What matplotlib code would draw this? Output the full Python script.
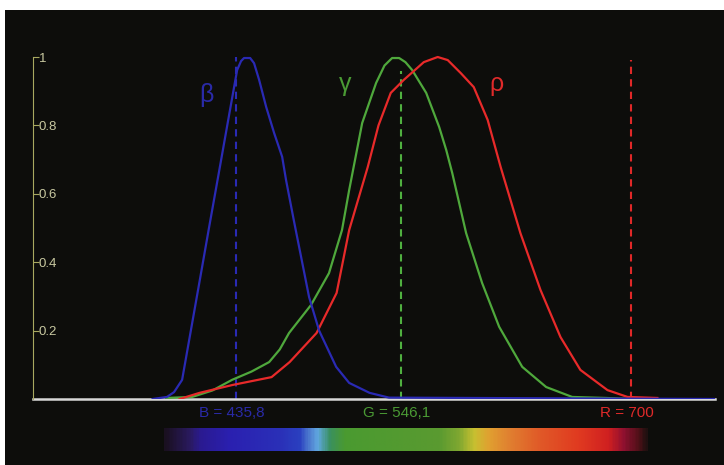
import numpy as np
import matplotlib.pyplot as plt
from matplotlib.colors import LinearSegmentedColormap
from matplotlib.patches import Rectangle

plt.rcParams['font.family'] = ['Liberation Sans', 'DejaVu Sans']

# colour matching functions (wavelength in nm, relative value)
blue_nm = [380, 389.6, 394.3, 399.7, 405.7, 411.7, 417.7, 424.4, 431.1, 436.5, 439.1, 441.1,
           445.2, 447.8, 451.2, 455.9, 461.2, 466.6, 469.2, 474.5, 484.6, 491.3, 502.7,
           511.4, 525, 538, 756]
blue_val = [0, 0.006, 0.02, 0.056, 0.204, 0.352, 0.501, 0.665, 0.83, 0.962, 0.988, 0.997,
            0.997, 0.982, 0.933, 0.854, 0.778, 0.708, 0.64, 0.52, 0.298, 0.2, 0.094,
            0.047, 0.018, 0.004, 0]

green_nm = [389, 406.4, 420, 433.1, 446, 457.9, 465, 471.2, 485.9, 497.9, 506.6, 511.4,
            520.1, 529.4, 535, 540.1, 544.8, 549, 553.5, 562.9, 571.6, 576.3, 580.3, 589.6,
            600.3, 611.7, 627.1, 643.1, 660.5, 683.3, 700]
green_val = [0.003, 0.006, 0.025, 0.056, 0.08, 0.108, 0.145, 0.193, 0.275, 0.368, 0.494,
             0.611, 0.807, 0.924, 0.975, 0.997, 0.997, 0.985, 0.962, 0.895, 0.795, 0.728,
             0.661, 0.485, 0.339, 0.211, 0.094, 0.035, 0.006, 0.003, 0.0]

red_nm = [398, 411.4, 433.4, 459.5, 471.6, 489.6, 503, 511.4, 523.8, 531, 539.2, 547.9,
          561.3, 570.6, 577.3, 586, 594.7, 604, 612.7, 625.9, 639.3, 652.7, 666, 684.1,
          697.5, 717.5]
red_val = [0.0, 0.018, 0.041, 0.064, 0.108, 0.193, 0.31, 0.494, 0.678, 0.8, 0.895, 0.933,
           0.985, 1.0, 0.991, 0.953, 0.912, 0.816, 0.678, 0.485, 0.319, 0.181, 0.085, 0.026,
           0.006, 0.003]

primaries = [435.8, 546.1, 700]
primary_labels = ["B = 435,8", "G = 546,1", "R = 700"]
names = ["β", "γ", "ρ"]
name_pos = [(416, 0.89), (509, 0.92), (610, 0.92)]

yticks = [0.2, 0.4, 0.6, 0.8, 1]
ytick_labels = ["0.2", "0.4", "0.6", "0.8", "1"]

# spectrum strip colour stops
spec_nm = [387.6, 404.3, 411, 431.1, 464.5, 477.9, 484.6, 490, 498, 508, 571.6, 585, 595,
           605, 618.4, 638.5, 665.2, 685.3, 695.3, 705.4, 710.7]
spec_col = ["#1a1020", "#2a1a60", "#2a1a90", "#2a20b0", "#2a30b8", "#2a40c0", "#5080d0",
            "#60a8e0", "#3a9060", "#4a9a30", "#5a9a30", "#80a830", "#c8c030", "#e0a030",
            "#e08030", "#e05a28", "#e03a20", "#d02020", "#901030", "#501018", "#201010"]

W, H = 724, 465
fig = plt.figure(figsize=(W / 100, H / 100), dpi=100)
fig.patch.set_facecolor("white")
fig.patches.append(Rectangle((5 / W, 0), 719 / W, 455 / H, transform=fig.transFigure,
                             facecolor="#0d0d0b", edgecolor="none", zorder=-10))

xmin, xmax = 300, 756
ax = fig.add_axes([33 / W, (H - 399) / H, 682 / W, 1.05 * 342 / H])
ax.set_facecolor("none")
ax.set_xlim(xmin, xmax)
ax.set_ylim(0, 1.05)

ax.plot(green_nm, green_val, color="#4fa83c", lw=1.6, zorder=3)
ax.plot(red_nm, red_val, color="#e82a2a", lw=1.6, zorder=3)
ax.plot(blue_nm, blue_val, color="#2a2ab4", lw=1.6, zorder=4)

dash_cols = ["#2a2ab4", "#50b040", "#e02828"]
dash_top = [1.0, 0.96, 0.99]
for wl, c, top in zip(primaries, dash_cols, dash_top):
    ax.plot([wl, wl], [0, top], color=c, lw=1.5, ls=(0, (3.5, 2.5)), zorder=2)

text_cols = ["#2a2aa8", "#4a9a34", "#e02a2a"]
for (x, y), n, c in zip(name_pos, names, text_cols):
    ax.text(x, y, n, color=c, fontsize=18, ha="center", va="center")
for wl, lab, c in zip(primaries, primary_labels, text_cols):
    ax.text(wl - 3, -0.04, lab, color=c, fontsize=11, ha="center", va="center",
            clip_on=False)

for s in ["top", "right"]:
    ax.spines[s].set_visible(False)
ax.spines["left"].set_color("#a8a860")
ax.spines["left"].set_bounds(0, 1)
ax.spines["bottom"].set_color("#d8d8d8")
ax.spines["bottom"].set_linewidth(1.8)
ax.spines["bottom"].set_zorder(2)
ax.set_xticks([])
ax.set_yticks(yticks)
ax.set_yticklabels(ytick_labels)
ax.tick_params(axis="y", direction="in", length=4, color="#a8a860", labelcolor="#c8c8a0",
               labelsize=9.5, pad=-4)
for t in ax.get_yticklabels():
    t.set_horizontalalignment("left")

# spectrum strip
cmap = LinearSegmentedColormap.from_list(
    "spec", list(zip([(v - spec_nm[0]) / (spec_nm[-1] - spec_nm[0]) for v in spec_nm], spec_col)))
sax = fig.add_axes([33 / W, (H - 451) / H, 682 / W, 23 / H])
sax.imshow(np.linspace(0, 1, 400).reshape(1, -1), cmap=cmap, aspect="auto",
           extent=(spec_nm[0], spec_nm[-1], 0, 1))
sax.set_xlim(xmin, xmax)
sax.set_ylim(0, 1)
sax.axis("off")

fig.savefig("out.png", dpi=100, facecolor=fig.get_facecolor())
